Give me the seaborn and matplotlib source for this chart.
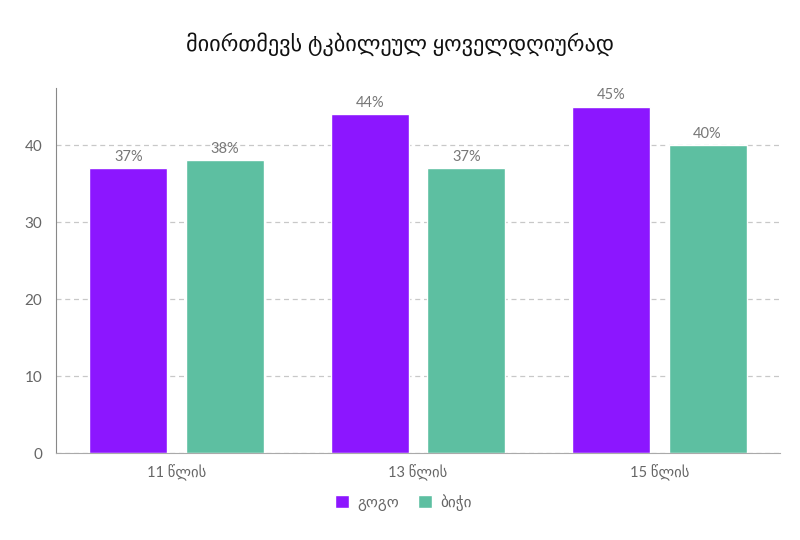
import pandas as pd
import matplotlib
matplotlib.use("Agg")
import matplotlib.pyplot as plt
import seaborn as sns

# მონაცემები
ასაკი = ["11 წლის", "13 წლის", "15 წლის"]
სქესი = ["გოგო", "ბიჭი"]
გოგო = [37, 44, 45]
ბიჭი = [38, 37, 40]

df = pd.DataFrame({
    "ასაკი": ასაკი * 2,
    "სქესი": [სქესი[0]] * 3 + [სქესი[1]] * 3,
    "პროცენტი": გოგო + ბიჭი,
})

sns.set_style("white")
plt.rcParams["font.family"] = ["Lato", "DejaVu Sans"]

fig = plt.figure(figsize=(8, 5.4), dpi=100)
ax = fig.add_axes([0.07, 0.161, 0.905, 0.676])

sns.barplot(data=df, x="ასაკი", y="პროცენტი", hue="სქესი",
            palette=["#8c16ff", "#5dbfa1"], gap=0.19, width=0.8,
            saturation=1, ax=ax, legend=True)

for cont in ax.containers:
    ax.bar_label(cont, labels=[f"{int(v)}%" for v in cont.datavalues],
                 padding=3, color="#777777", fontsize=10.5)

ax.set_ylim(0, 47.4)
ax.set_xlim(-0.5, 2.5)
ax.set_yticks([0, 10, 20, 30, 40])
ax.yaxis.grid(True, linestyle=(0, (4, 3)), color="#c8c8c8", linewidth=0.9)
ax.set_axisbelow(True)
ax.set_xlabel("")
ax.set_ylabel("")
for s in ["top", "right"]:
    ax.spines[s].set_visible(False)
ax.spines["left"].set_color("#888888")
ax.spines["bottom"].set_color("#aaaaaa")
ax.tick_params(axis="y", length=0, colors="#666666", labelsize=11, pad=10)
ax.tick_params(axis="x", length=0, colors="#666666", labelsize=10.5, pad=8)

fig.suptitle("მიირთმევს ტკბილეულ ყოველდღიურად", y=0.94, fontsize=16,
             color="#111111")

ax.legend(loc="upper center", bbox_to_anchor=(0.48, -0.075), ncol=2,
          frameon=False, fontsize=11, handlelength=0.9, handleheight=0.9,
          handletextpad=0.6, columnspacing=1.2, labelcolor="#666666")

fig.savefig("out.png", dpi=100)
